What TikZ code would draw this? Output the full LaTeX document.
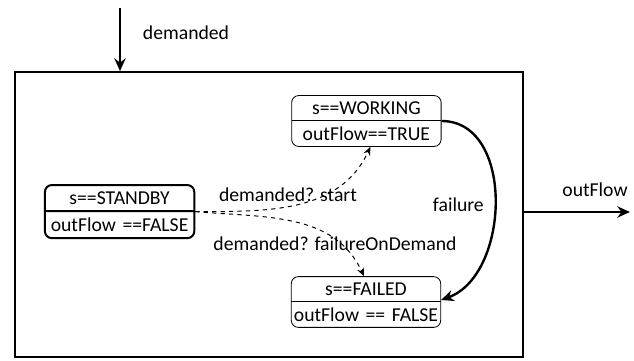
\documentclass[tikz,border=0pt]{standalone}
\usepackage{fontspec}
\setmainfont{Carlito}
\usetikzlibrary{positioning, arrows.meta, shapes.multipart}

\begin{document}
\begin{tikzpicture}[
    font=\fontsize{14}{16}\selectfont,
    state/.style={rectangle split, rectangle split parts=2, draw, rounded corners=5pt, text width=3.7cm, align=center, inner xsep=0.5pt, inner ysep=4pt, line width=0.6pt},
    initial/.style={state, line width=1.4pt},
    arrow/.style={-{Stealth[length=9pt, width=8pt]}, line width=1.7pt},
    trigger/.style={-{Stealth[length=6pt, width=5pt]}, dashed, line width=0.7pt}
]
\useasboundingbox (0,0) rectangle (15.85,9);

\node[draw, line width=1.3pt, minimum width=12.7cm, minimum height=7.125cm] (block) at (6.725,3.6375) {};

\node[initial] (standby) at (2.99,3.71) {s==STANDBY \nodepart{second} outFlow ==FALSE};
\node[state] (working) at (9.16,5.975) {s==WORKING \nodepart{second} outFlow==TRUE};
\node[state] (failed) at (9.15,1.45) {s==FAILED \nodepart{second} outFlow == FALSE};

\coordinate (src) at (3.0,8.8);
\coordinate (sink) at (15.75,3.7);

\draw[arrow] (src) -- (src |- block.north);
\draw[arrow] (block.east |- sink) -- (sink);

\draw[trigger] (standby.east) to[out=0, in=-115] ([xshift=0.1cm]working.south);
\draw[trigger] (standby.east) to[out=-5, in=115] ([xshift=-0.05cm]failed.north);
\draw[arrow] (working.east) to[out=0, in=20, looseness=1.05] ([yshift=0.05cm]failed.east);

\node[anchor=west] (demanded) at (3.45,8.175) {demanded};
\node (outflow) at (14.875,4.25) {outFlow};
\node[anchor=west] (failure) at (10.7,3.875) {failure};
\node (start) at (7.2,4.125) {demanded? start};
\node (fod) at (8.375,2.9) {demanded? failureOnDemand};
\end{tikzpicture}
\end{document}
